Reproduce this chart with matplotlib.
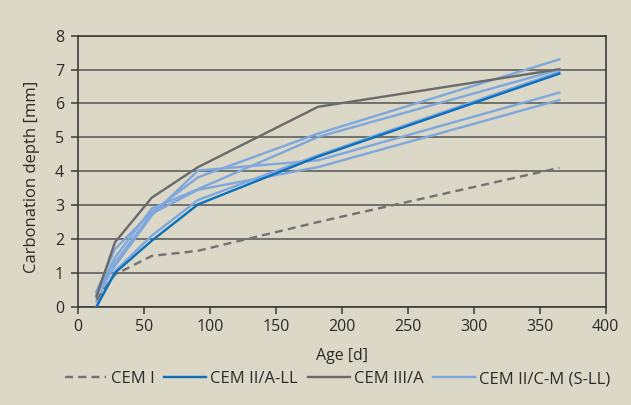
import matplotlib
matplotlib.use("Agg")
import matplotlib.pyplot as plt

# ages at which carbonation depth was measured [d]
age = [14, 28, 56, 91, 182, 365]

cem_i = [0.2, 0.95, 1.5, 1.65, 2.5, 4.1]
cem_ii_a_ll = [0.0, 1.0, 1.95, 3.02, 4.43, 6.88]
cem_iii_a = [0.3, 1.9, 3.22, 4.12, 5.9, 7.01]

# several mixes of CEM II/C-M (S-LL)
cem_ii_cm = [
    [0.45, 1.7, 2.8, 3.82, 5.11, 7.3],
    [0.35, 1.45, 2.9, 3.47, 5.01, 7.0],
    [0.4, 1.2, 2.7, 4.02, 4.32, 6.32],
    [0.15, 1.3, 2.75, 3.45, 4.12, 6.1],
    [0.0, 1.05, 2.1, 3.15, 4.47, 6.93],
]

bg = "#dbd8c7"
grid_c = "#5e5e5e"
txt = "#2b2b2b"
plt.rcParams["font.family"] = ["Open Sans", "DejaVu Sans"]

fig = plt.figure(figsize=(6.31, 4.05), dpi=100, facecolor=bg)
ax = fig.add_axes([0.1236, 0.2427, 0.836, 0.6692])
ax.set_facecolor(bg)

lw = 1.7
for i, s in enumerate(cem_ii_cm):
    ax.plot(age, s, color="#7ea8dd", lw=lw, label="CEM II/C-M (S-LL)" if i == 0 else None, zorder=3)
ax.plot(age, cem_i, color="#727272", lw=lw, ls=(0, (3.4, 2.2)), label="CEM I", zorder=4)
ax.plot(age, cem_ii_a_ll, color="#0a6fbd", lw=lw, label="CEM II/A-LL", zorder=4)
ax.plot(age, cem_iii_a, color="#6a6a6a", lw=lw, label="CEM III/A", zorder=4)

ax.set_xlim(0, 400)
ax.set_ylim(0, 8)
ax.set_xticks(range(0, 401, 50))
ax.set_yticks(range(0, 9))
ax.yaxis.grid(True, color=grid_c, lw=1.2)
ax.set_axisbelow(True)
for sp in ax.spines.values():
    sp.set_color("#3a3a3a")
    sp.set_linewidth(1.2)
ax.tick_params(axis="both", direction="out", length=5, width=1.1, color="#3a3a3a",
               labelsize=11.5, labelcolor=txt)
ax.tick_params(axis="x", pad=4)
ax.tick_params(axis="y", pad=5)

ax.set_xlabel("Age [d]", fontsize=11.5, color=txt, labelpad=9)
ax.set_ylabel("Carbonation depth [mm]", fontsize=12, color=txt)
ax.yaxis.set_label_coords(-0.072, 0.48)

h, l = ax.get_legend_handles_labels()
order = [l.index(n) for n in ["CEM I", "CEM II/A-LL", "CEM III/A", "CEM II/C-M (S-LL)"]]
fig.legend([h[i] for i in order], [l[i] for i in order], loc="center", ncol=4,
           bbox_to_anchor=(0.535, 0.064), frameon=False, fontsize=12,
           handlelength=2.5, handletextpad=0.25, columnspacing=0.6, labelcolor=txt)

fig.savefig("out.png", dpi=100, facecolor=bg)
